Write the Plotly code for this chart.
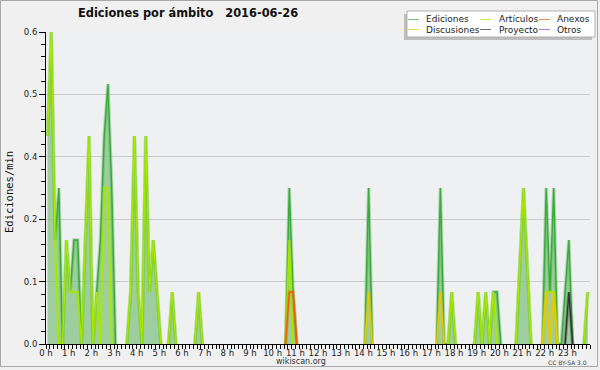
import numpy as np
import plotly.graph_objects as go

# ---------------- data (10-minute bins, edits per minute) ----------------
TITLE = "Ediciones por ámbito\u00a0\u00a0\u00a02016-06-26"
Y_TITLE = "Ediciones/min"
HOUR_TICKS = list(range(24))
HOUR_LABELS = [f"{h} h" for h in HOUR_TICKS]
BIN_HOURS = [(i + 0.4) / 6 for i in range(144)]  # plotted position of each 10-min bin, in hours

# each row = 4 hours (24 bins)
ediciones = [
    0.4, 0.6, 0.2, 0.3, 0, 0.2, 0.1, 0.2, 0.2, 0, 0.2, 0.4, 0, 0.1, 0.2, 0.4, 0.5, 0.3, 0, 0, 0, 0, 0.1, 0.4,
    0.1, 0, 0.4, 0.1, 0.2, 0.1, 0, 0, 0, 0.1, 0, 0, 0, 0, 0, 0, 0.1, 0, 0, 0, 0, 0, 0, 0,
    0, 0, 0, 0, 0, 0, 0, 0, 0, 0, 0, 0, 0, 0, 0, 0, 0.3, 0.1, 0, 0, 0, 0, 0, 0,
    0, 0, 0, 0, 0, 0, 0, 0, 0, 0, 0, 0, 0, 0.3, 0, 0, 0, 0, 0, 0, 0, 0, 0, 0,
    0, 0, 0, 0, 0, 0, 0, 0, 0.3, 0, 0, 0.1, 0, 0, 0, 0, 0, 0, 0.1, 0, 0.1, 0, 0.1, 0.1,
    0, 0, 0, 0, 0, 0.15, 0.3, 0.15, 0, 0, 0, 0, 0.3, 0.1, 0.3, 0, 0, 0.1, 0.2, 0, 0, 0, 0, 0.1,
]
articulos = [
    0.4, 0.6, 0.2, 0, 0, 0.2, 0.1, 0.1, 0.1, 0, 0.2, 0.4, 0, 0.1, 0, 0.3, 0.3, 0, 0, 0, 0, 0, 0.1, 0.4,
    0.1, 0, 0.4, 0.1, 0.2, 0.1, 0, 0, 0, 0.1, 0, 0, 0, 0, 0, 0, 0.1, 0, 0, 0, 0, 0, 0, 0,
    0, 0, 0, 0, 0, 0, 0, 0, 0, 0, 0, 0, 0, 0, 0, 0, 0.2, 0, 0, 0, 0, 0, 0, 0,
    0, 0, 0, 0, 0, 0, 0, 0, 0, 0, 0, 0, 0, 0, 0, 0, 0, 0, 0, 0, 0, 0, 0, 0,
    0, 0, 0, 0, 0, 0, 0, 0, 0, 0, 0, 0.1, 0, 0, 0, 0, 0, 0, 0.1, 0, 0.1, 0, 0.1, 0,
    0, 0, 0, 0, 0, 0.15, 0.3, 0.15, 0, 0, 0, 0, 0.1, 0.1, 0.1, 0, 0, 0, 0, 0, 0, 0, 0, 0.1,
]
discusiones = [
    0, 0, 0, 0, 0, 0, 0, 0, 0, 0, 0, 0, 0, 0, 0, 0, 0, 0, 0, 0, 0, 0, 0, 0,
    0, 0, 0, 0, 0, 0, 0, 0, 0, 0, 0, 0, 0, 0, 0, 0, 0, 0, 0, 0, 0, 0, 0, 0,
    0, 0, 0, 0, 0, 0, 0, 0, 0, 0, 0, 0, 0, 0, 0, 0, 0, 0, 0, 0, 0, 0, 0, 0,
    0, 0, 0, 0, 0, 0, 0, 0, 0, 0, 0, 0, 0, 0.1, 0, 0, 0, 0, 0, 0, 0, 0, 0, 0,
    0, 0, 0, 0, 0, 0, 0, 0, 0.1, 0, 0, 0, 0, 0, 0, 0, 0, 0, 0, 0, 0, 0, 0, 0,
    0, 0, 0, 0, 0, 0, 0, 0, 0, 0, 0, 0, 0.1, 0, 0.1, 0, 0, 0, 0, 0, 0, 0, 0, 0,
]
anexos = [
    0, 0, 0, 0, 0, 0, 0, 0, 0, 0, 0, 0, 0, 0, 0, 0, 0, 0, 0, 0, 0, 0, 0, 0,
    0, 0, 0, 0, 0, 0, 0, 0, 0, 0, 0, 0, 0, 0, 0, 0, 0, 0, 0, 0, 0, 0, 0, 0,
    0, 0, 0, 0, 0, 0, 0, 0, 0, 0, 0, 0, 0, 0, 0, 0, 0.1, 0.1, 0, 0, 0, 0, 0, 0,
    0, 0, 0, 0, 0, 0, 0, 0, 0, 0, 0, 0, 0, 0, 0, 0, 0, 0, 0, 0, 0, 0, 0, 0,
    0, 0, 0, 0, 0, 0, 0, 0, 0, 0, 0, 0, 0, 0, 0, 0, 0, 0, 0, 0, 0, 0, 0, 0,
    0, 0, 0, 0, 0, 0, 0, 0, 0, 0, 0, 0, 0, 0, 0, 0, 0, 0, 0, 0, 0, 0, 0, 0,
]
proyecto = [
    0, 0, 0, 0, 0, 0, 0, 0, 0, 0, 0, 0, 0, 0, 0, 0, 0, 0, 0, 0, 0, 0, 0, 0,
    0, 0, 0, 0, 0, 0, 0, 0, 0, 0, 0, 0, 0, 0, 0, 0, 0, 0, 0, 0, 0, 0, 0, 0,
    0, 0, 0, 0, 0, 0, 0, 0, 0, 0, 0, 0, 0, 0, 0, 0, 0, 0, 0, 0, 0, 0, 0, 0,
    0, 0, 0, 0, 0, 0, 0, 0, 0, 0, 0, 0, 0, 0, 0, 0, 0, 0, 0, 0, 0, 0, 0, 0,
    0, 0, 0, 0, 0, 0, 0, 0, 0, 0, 0, 0, 0, 0, 0, 0, 0, 0, 0, 0, 0, 0, 0, 0,
    0, 0, 0, 0, 0, 0, 0, 0, 0, 0, 0, 0, 0, 0, 0, 0, 0, 0, 0.1, 0, 0, 0, 0, 0,
]
otros = [
    0, 0, 0, 0, 0, 0, 0, 0, 0, 0, 0, 0, 0, 0, 0, 0, 0, 0, 0, 0, 0, 0, 0, 0,
    0, 0, 0, 0, 0, 0, 0, 0, 0, 0, 0, 0, 0, 0, 0, 0, 0, 0, 0, 0, 0, 0, 0, 0,
    0, 0, 0, 0, 0, 0, 0, 0, 0, 0, 0, 0, 0, 0, 0, 0, 0, 0, 0, 0, 0, 0, 0, 0,
    0, 0, 0, 0, 0, 0, 0, 0, 0, 0, 0, 0, 0, 0, 0, 0, 0, 0, 0, 0, 0, 0, 0, 0,
    0, 0, 0, 0, 0, 0, 0, 0, 0, 0, 0, 0, 0, 0, 0, 0, 0, 0, 0, 0, 0, 0, 0, 0,
    0, 0, 0, 0, 0, 0, 0, 0, 0, 0, 0, 0, 0, 0, 0, 0, 0, 0, 0, 0, 0, 0, 0, 0,
]
Y_MAX = 0.6

SERIES = [  # legend order (column-major): name, values, line colour
    ("Ediciones", ediciones, "#3aaa3a"),
    ("Discusiones", discusiones, "#e8c800"),
    ("Artículos", articulos, "#a6e800"),
    ("Proyecto", proyecto, "#333333"),
    ("Anexos", anexos, "#f06000"),
    ("Otros", otros, "#9a40e8"),
]
DRAW_ORDER = ["Ediciones", "Artículos", "Discusiones", "Anexos", "Proyecto", "Otros"]

for _, v, _ in SERIES:
    assert len(v) == 144


def mask(vals):
    """hide runs of zeros so no coloured line lies along the axis"""
    out = []
    n = len(vals)
    for i, v in enumerate(vals):
        p = vals[i - 1] if i > 0 else 0
        q = vals[i + 1] if i < n - 1 else 0
        out.append(None if (v == 0 and p == 0 and q == 0) else v)
    return out


# ---------------- geometry helpers ----------------
W, H = 600, 370
ML, MR, MT, MB = 46, 10, 32, 26
PW, PH = W - ML - MR, H - MT - MB


def px(x):
    return (x - ML) / PW


def py(y):
    return (H - MB - y) / PH


fig = go.Figure()
lookup = {s[0]: s for s in SERIES}
for name in DRAW_ORDER:
    _, vals, col = lookup[name]
    y = mask(vals)
    if name == "Ediciones":
        fig.add_trace(go.Scatter(
            x=BIN_HOURS, y=y, mode="lines", name=name,
            line=dict(color="rgba(0,0,0,0)", width=0), fill="tozeroy",
            fillcolor="rgba(120,190,120,0.68)", showlegend=False, hoverinfo="skip"))
    # soft halo + core line
    fig.add_trace(go.Scatter(
        x=BIN_HOURS, y=y, mode="lines", name=name, opacity=0.35,
        line=dict(color=col, width=3.4), showlegend=False, hoverinfo="skip"))
    fig.add_trace(go.Scatter(
        x=BIN_HOURS, y=y, mode="lines", name=name,
        line=dict(color=col, width=1.4), showlegend=False, hoverinfo="skip"))

font = "DejaVu Sans"
fig.update_layout(
    width=W, height=H,
    margin=dict(l=ML, r=MR, t=MT, b=MB, pad=0),
    paper_bgcolor="#f0f0f0",
    plot_bgcolor="#eef0f2",
    showlegend=False,
    font=dict(family=font, size=8, color="#222222"),
    xaxis=dict(
        range=[0, 24], tickmode="array", tickvals=HOUR_TICKS, ticktext=HOUR_LABELS,
        ticks="outside", ticklen=4, tickcolor="black", tickwidth=1,
        showline=True, linecolor="black", linewidth=1, showgrid=False, zeroline=False,
        tickfont=dict(size=8.5, family=font, color="#222"), ticklabelstandoff=-3,
        minor=dict(dtick=1 / 6, tick0=0, ticks="outside", ticklen=4, tickcolor="black", showgrid=False),
        fixedrange=True, automargin=False,
    ),
    yaxis=dict(
        range=[0, Y_MAX], tickmode="array",
        tickvals=list(np.linspace(0, Y_MAX, 6)),
        ticktext=[f"{v:.1f}" for v in np.linspace(0, Y_MAX, 6)],
        ticks="outside", ticklen=6, tickcolor="black",
        showline=True, linecolor="black", linewidth=1,
        showgrid=True, gridcolor="#cccccc", gridwidth=1, zeroline=False,
        tickfont=dict(size=8.5, family=font, color="#222"),
        minor=dict(dtick=Y_MAX / 25, tick0=0, ticks="outside", ticklen=4, tickcolor="black", showgrid=False),
        fixedrange=True, automargin=False,
    ),
)

shapes = []
annos = []
# outer frame
shapes.append(dict(type="rect", xref="paper", yref="paper",
                   x0=px(0.5), x1=px(597.5), y0=py(0.5), y1=py(366.5),
                   line=dict(color="#a8a8a8", width=1), layer="above"))
# legend box with shadow
shapes.append(dict(type="rect", xref="paper", yref="paper",
                   x0=px(404), x1=px(592), y0=py(14), y1=py(40),
                   fillcolor="#bdbdbd", line=dict(width=0), layer="above"))
shapes.append(dict(type="rect", xref="paper", yref="paper",
                   x0=px(407), x1=px(595), y0=py(11), y1=py(37),
                   fillcolor="white", line=dict(color="#b0b0b0", width=1), layer="above"))
col_line_x = [408, 480, 539]
col_text_x = [424, 497, 555]
row_y = [19.5, 29.5]
for k, (name, _, col) in enumerate(SERIES):
    c, r = k // 2, k % 2
    shapes.append(dict(type="line", xref="paper", yref="paper",
                       x0=px(col_line_x[c]), x1=px(col_line_x[c] + 11),
                       y0=py(row_y[r]), y1=py(row_y[r]),
                       line=dict(color=col, width=1), layer="above", opacity=0.7))
    annos.append(dict(text=name, xref="paper", yref="paper", x=px(col_text_x[c]), y=py(row_y[r]),
                      xanchor="left", yanchor="middle", showarrow=False,
                      font=dict(family=font, size=9.0, color="#222")))

# title
annos.append(dict(text=f"<b>{TITLE}</b>", xref="paper", yref="paper", x=px(188), y=py(12.5),
                  xanchor="center", yanchor="middle", showarrow=False,
                  font=dict(family=font, size=11.4, color="#111")))
# y axis title
annos.append(dict(text=Y_TITLE, xref="paper", yref="paper", x=px(9), y=py(192),
                  xanchor="center", yanchor="middle", showarrow=False, textangle=-90,
                  font=dict(family="DejaVu Sans Mono", size=10.5, color="#111")))
# footer
annos.append(dict(text="wikiscan.org", xref="paper", yref="paper", x=px(301), y=py(361.5),
                  xanchor="center", yanchor="middle", showarrow=False,
                  font=dict(family=font, size=8, color="#333")))
annos.append(dict(text="CC BY-SA 3.0", xref="paper", yref="paper", x=px(589), y=py(362),
                  xanchor="right", yanchor="middle", showarrow=False,
                  font=dict(family=font, size=6, color="#444")))

fig.update_layout(shapes=shapes, annotations=annos)
fig.write_html("out.html", config={"displayModeBar": False},
               post_script="document.body.style.margin='0';document.body.style.padding='0';")
